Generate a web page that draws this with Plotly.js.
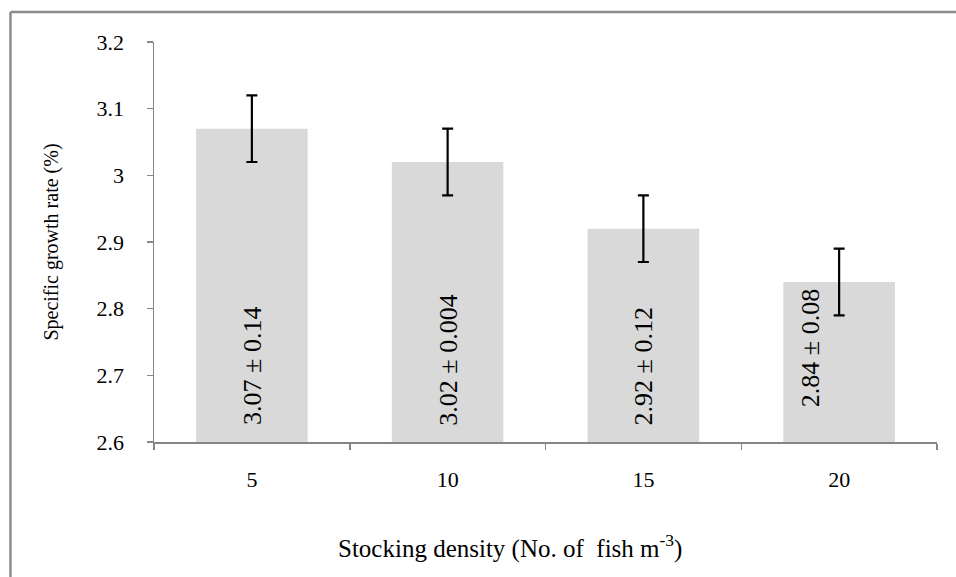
<!DOCTYPE html>
<html>
<head>
<meta charset="utf-8">
<script src="https://cdn.plot.ly/plotly-3.0.1.min.js"></script>
<style>
html,body{margin:0;padding:0;background:#fff;}
#chart{width:956px;height:577px;}
</style>
</head>
<body>
<div id="chart"></div>
<script>
var categories = ["5", "10", "15", "20"];
var sgr = [3.07, 3.02, 2.92, 2.84];
var errorPlusMinus = [0.05, 0.05, 0.05, 0.05];
var labels = ["3.07 ± 0.14", "3.02 ± 0.004", "2.92 ± 0.12", "2.84 ± 0.08"];
var labelY = [2.714, 2.723, 2.714, 2.741];
var labelShift = [0, 0, 0, -29];
var yTickVals = [2.6, 2.7, 2.8, 2.9, 3.0, 3.1, 3.2];
var yTickText = ["2.6", "2.7", "2.8", "2.9", "3", "3.1", "3.2"];
var xTitle = "Stocking density (No. of  fish m<sup>-3</sup>)";
var yTitle = "Specific growth rate (%)";

var serif = "'Liberation Serif', 'Times New Roman', serif";
var axisGray = "#868686";

var trace = {
  type: "bar",
  x: categories,
  y: sgr,
  marker: {color: "#d9d9d9"},
  error_y: {type: "data", array: errorPlusMinus, visible: true, color: "#000000", thickness: 2.2, width: 5.5},
  hoverinfo: "none"
};

var annotations = labels.map(function (t, i) {
  return {
    x: i, y: labelY[i], xref: "x", yref: "y",
    text: t, showarrow: false, textangle: -90,
    xanchor: "center", yanchor: "middle", xshift: labelShift[i],
    font: {family: serif, size: 26, color: "#000"}
  };
});
annotations.push({
  x: 0.455, y: -0.26, xref: "paper", yref: "paper",
  text: xTitle, showarrow: false, xanchor: "center", yanchor: "middle",
  font: {family: serif, size: 25, color: "#000"}
});

var layout = {
  width: 956, height: 577,
  margin: {l: 154, r: 19, t: 42, b: 135},
  paper_bgcolor: "#ffffff",
  plot_bgcolor: "#ffffff",
  showlegend: false,
  bargap: 0.43,
  font: {family: serif, color: "#000"},
  xaxis: {
    type: "category",
    range: [-0.5, 3.5],
    autorange: false,
    showline: true, linecolor: axisGray, linewidth: 1.5,
    ticks: "outside", tickson: "boundaries", ticklen: 6, tickcolor: axisGray, tickwidth: 1.5,
    showgrid: false, zeroline: false,
    tickfont: {family: serif, size: 22, color: "#000"},
    ticklabelstandoff: 17
  },
  yaxis: {
    range: [2.6, 3.2],
    autorange: false,
    tickvals: yTickVals, ticktext: yTickText,
    showline: true, linecolor: axisGray, linewidth: 1.5,
    ticks: "outside", ticklen: 6, tickcolor: axisGray, tickwidth: 1.5,
    showgrid: false, zeroline: false,
    tickfont: {family: serif, size: 22, color: "#000"},
    ticklabelstandoff: 18,
    title: {text: yTitle, font: {family: serif, size: 20, color: "#000"}, standoff: 32}
  },
  annotations: annotations,
  shapes: [
    {type: "line", xref: "paper", yref: "paper", x0: -0.1833, x1: 1.03, y0: 1.075, y1: 1.075, line: {color: "#8c8c8c", width: 2.5}},
    {type: "line", xref: "paper", yref: "paper", x0: -0.1833, x1: -0.1833, y0: 1.075, y1: -0.35, line: {color: "#8c8c8c", width: 2.5}}
  ]
};

Plotly.newPlot("chart", [trace], layout, {displayModeBar: false, staticPlot: true});
</script>
</body>
</html>
